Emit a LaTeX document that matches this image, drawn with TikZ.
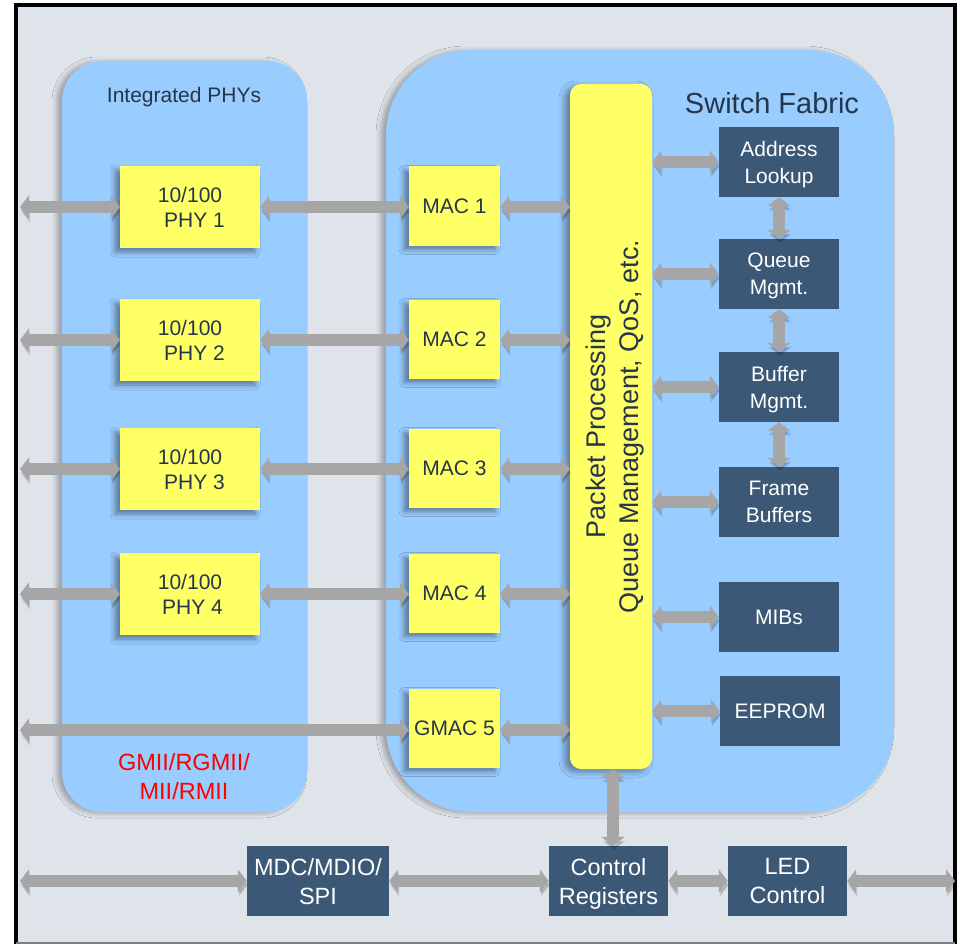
\documentclass[tikz,border=0pt]{standalone}
\usepackage{fontspec}
\setmainfont{Liberation Sans}
\usetikzlibrary{arrows.meta,shadows.blur}
\definecolor{bgc}{HTML}{DFE4EB}
\definecolor{panelc}{HTML}{99CCFF}
\definecolor{yelc}{HTML}{FFFF66}
\definecolor{darkc}{HTML}{3B5876}
\definecolor{txtc}{HTML}{26364A}
\definecolor{arrc}{HTML}{A6A6A6}
\definecolor{redc}{HTML}{FF0000}
\tikzset{
  panel/.style={fill=panelc, blur shadow={shadow xshift=-5pt, shadow yshift=-1pt, shadow blur radius=5pt, shadow opacity=30}},
  ybox/.style={fill=yelc, text=txtc, align=center, inner sep=0pt, text depth=0pt,
    font=\fontsize{21}{25}\selectfont,
    blur shadow={shadow xshift=-5pt, shadow yshift=-4pt, shadow blur radius=5pt, shadow opacity=40}},
  phybox/.style={ybox, minimum width=140pt, minimum height=82pt},
  macbox/.style={ybox, minimum width=91pt, minimum height=79pt},
  dbox/.style={fill=darkc, text=white, align=center, inner sep=0pt, text depth=0pt,
    font=\fontsize{21}{27}\selectfont, minimum width=120pt, minimum height=70pt},
  bbox/.style={dbox, font=\fontsize{23.5}{29}\selectfont, minimum height=70pt},
  garrow/.style={line width=12pt, draw=arrc,
    {Triangle[width=23pt,length=9pt]}-{Triangle[width=23pt,length=9pt]},
    preaction={draw=black, opacity=0.13, transform canvas={shift={(1pt,-4pt)}}}},
}
\begin{document}
\begin{tikzpicture}[x=1pt,y=-1pt]
\useasboundingbox (0,0) rectangle (961,944);
% frame
\fill[white] (0,0) rectangle (961,944);
\fill[bgc] (16,5) rectangle (955,944);
\draw[black, line width=4pt] (16,944) -- (16,5) -- (955,5) -- (955,944);
\draw[gray, line width=1.5pt] (16,943) -- (955,943);
% panels
\fill[panel, rounded corners=40pt] (62,61) rectangle (307,812);
\fill[panel, rounded corners=85pt] (386,50) rectangle (894,812);
\node[text=txtc, font=\fontsize{21}{25}\selectfont] (phyt) at (184,97) {Integrated PHYs};
\node[text=txtc, font=\fontsize{29}{34}\selectfont] (swt) at (772,103) {Switch Fabric};
\node[text=redc, align=center, text depth=0pt, font=\fontsize{23.5}{29}\selectfont] (gmii) at (184,776) {GMII/RGMII/\\MII/RMII};
% packet processing
\node[fill=yelc, rounded corners=11pt, minimum width=82pt, minimum height=685pt, inner sep=0pt,
  blur shadow={shadow xshift=-5pt, shadow yshift=-3pt, shadow blur radius=6pt, shadow opacity=40}] (pp) at (611,426.5) {};
\node[rotate=90, text=txtc, align=center, text depth=0pt, font=\fontsize{27}{33}\selectfont] (ppt) at ([xshift=1pt]pp.center) {Packet Processing\\Queue Management, QoS, etc.};
% PHYs and MACs
\node[phybox] (phy1) at (190,207) {10/100\\\hspace*{9pt}PHY 1};
\node[phybox] (phy2) at (190,340) {10/100\\\hspace*{9pt}PHY 2};
\node[phybox] (phy3) at (190,469) {10/100\\\hspace*{9pt}PHY 3};
\node[phybox] (phy4) at (190,594) {10/100\\\hspace*{5pt}PHY 4};
\node[macbox] (mac1) at (454.5,206) {MAC 1};
\node[macbox] (mac2) at (454.5,339) {MAC 2};
\node[macbox] (mac3) at (454.5,468) {MAC 3};
\node[macbox] (mac4) at (454.5,593) {MAC 4};
\node[macbox] (mac5) at (454.5,728) {GMAC 5};
% fabric blocks
\node[dbox] (addr) at (779,162) {Address\\Lookup};
\node[dbox] (queue) at (779,274) {Queue\\Mgmt.};
\node[dbox] (buf) at (779,387) {Buffer\\Mgmt.};
\node[dbox] (frame) at (779,502) {Frame\\Buffers};
\node[dbox] (mibs) at (779,617) {MIBs};
\node[dbox] (eeprom) at (780,711) {EEPROM};
% bottom blocks
\node[bbox, minimum width=142pt] (mdc) at (318,881) {MDC/MDIO/\\SPI};
\node[bbox, minimum width=119pt] (ctrl) at (608.5,881) {Control\\Registers};
\node[bbox, minimum width=119pt] (led) at (787.5,881) {LED\\Control};
% free ends
\coordinate (l1) at (20,207);
\coordinate (l2) at (20,340);
\coordinate (l3) at (20,469);
\coordinate (l4) at (20,594);
\coordinate (l5) at (20,730);
\coordinate (lb) at (20,881);
\coordinate (rb) at (955,881);
% arrows
\foreach \i in {1,2,3,4} {
  \draw[garrow] (l\i) -- (phy\i.west);
  \draw[garrow] (phy\i.east) -- (phy\i.east -| mac\i.west);
  \draw[garrow] (phy\i.east -| mac\i.east) -- (phy\i.east -| pp.west);
}
\draw[garrow] (l5) -- (l5 -| mac5.west);
\draw[garrow] (l5 -| mac5.east) -- (l5 -| pp.west);
\foreach \b in {addr,queue,buf,frame,mibs,eeprom} {
  \draw[garrow] (\b.west -| pp.east) -- (\b.west);
}
\draw[garrow] (addr.south) -- (queue.north);
\draw[garrow] (queue.south) -- (buf.north);
\draw[garrow] (buf.south) -- (frame.north);
\draw[garrow] ([xshift=2pt]pp.south) -- ([xshift=2pt]pp.south |- ctrl.north);
\draw[garrow] (lb) -- (mdc.west);
\draw[garrow] (mdc.east) -- (ctrl.west);
\draw[garrow] (ctrl.east) -- (led.west);
\draw[garrow] (led.east) -- (rb);
\end{tikzpicture}
\end{document}
